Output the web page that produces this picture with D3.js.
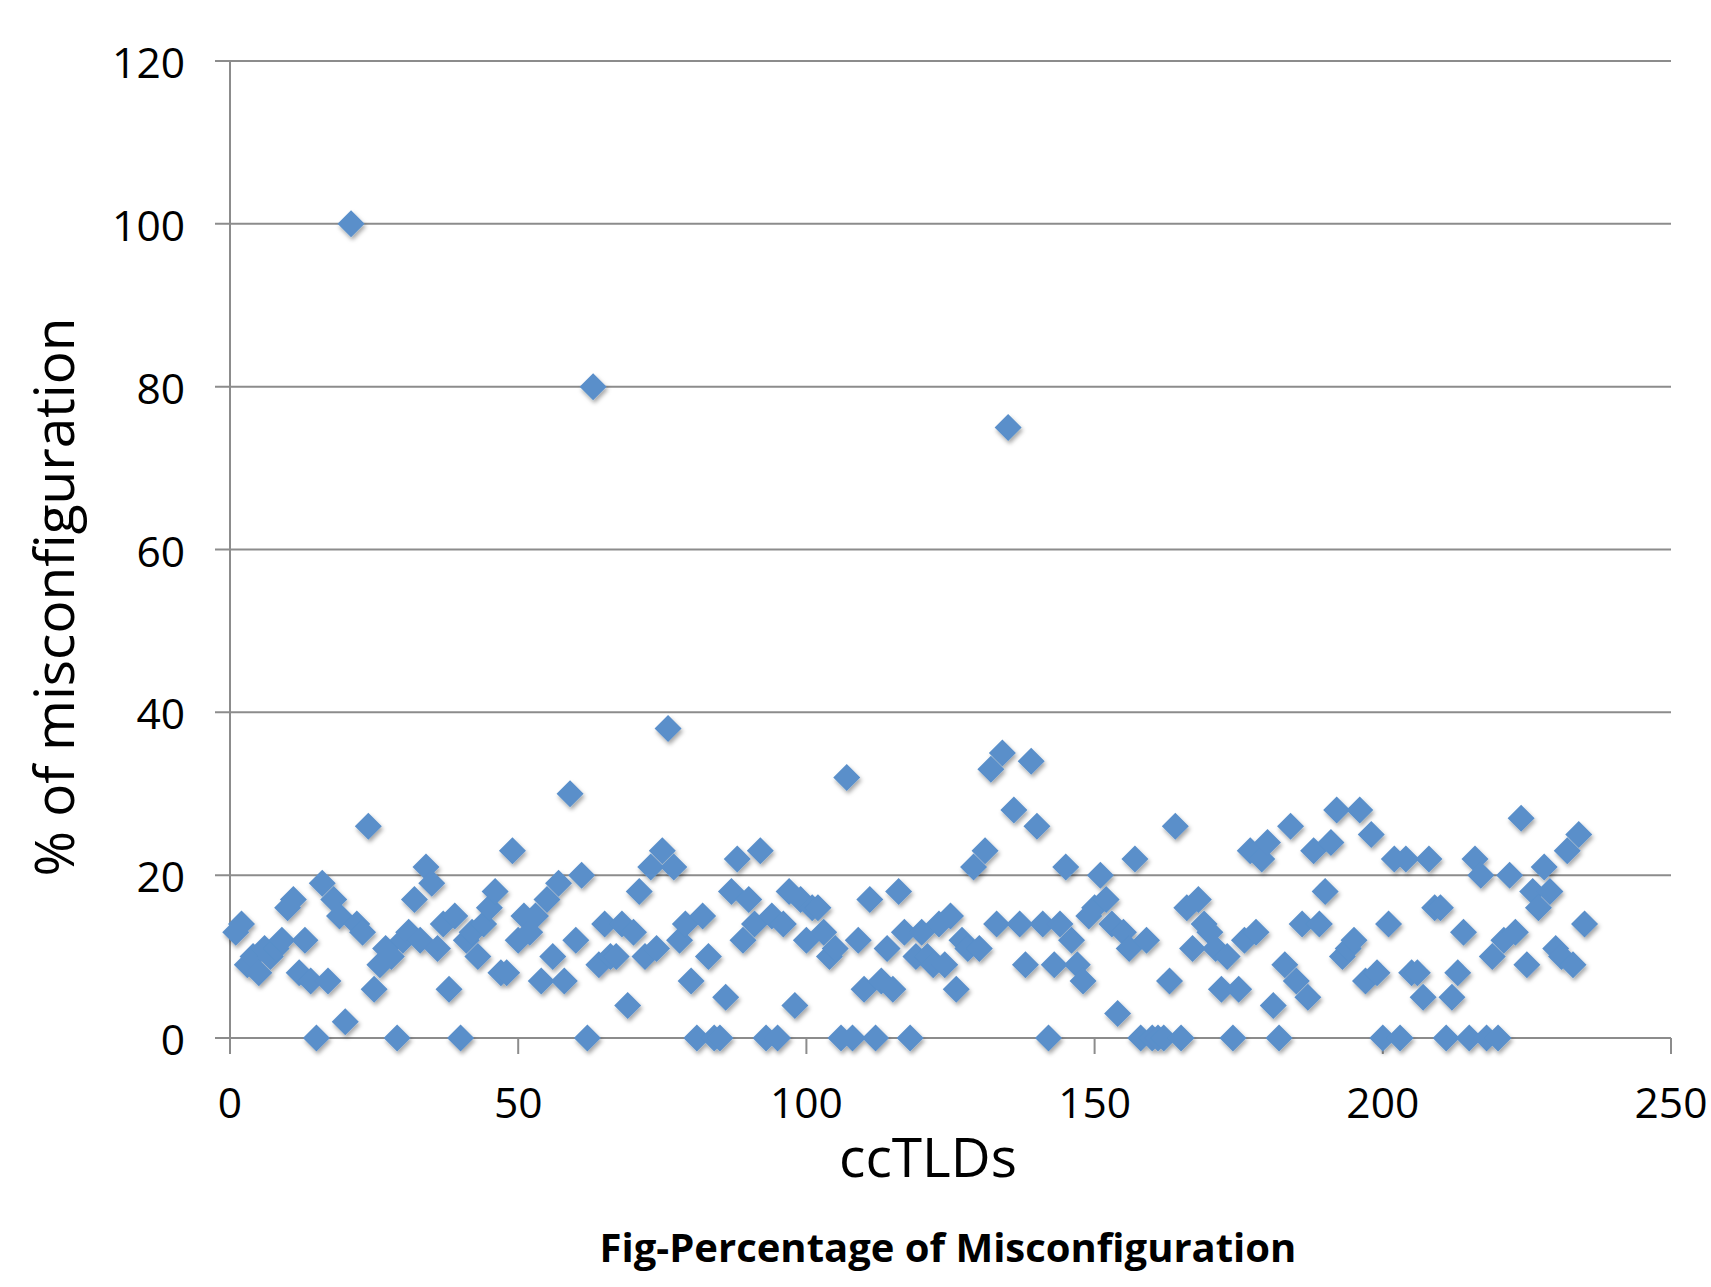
<!DOCTYPE html>
<head>
  <meta charset="utf-8">
  <script src="https://d3js.org/d3.v7.min.js"></script>
  <style>
    body { margin:0; background:#fff; }
    text { font-family: "Open Sans", sans-serif; fill:#000; }
  </style>
</head>
<body>
<script>
// ccTLD index -> % of misconfiguration
var misconf = [
  13,14,9,10,8,11,10,11,12,16,17,8,12,7,0,19,7,17,15,2,
  100,14,13,26,6,9,11,10,0,12,13,17,12,21,19,11,14,6,15,0,
  12,13,10,14,16,18,8,8,23,12,15,13,15,7,17,10,19,7,30,12,
  20,0,80,9,14,10,10,14,4,13,18,10,21,11,23,38,21,12,14,7,
  0,15,10,0,0,5,18,22,12,17,14,23,0,15,0,14,18,4,17,12,
  16,16,13,10,11,0,32,0,12,6,17,0,7,11,6,18,13,0,10,13,
  10,9,14,9,15,6,12,11,21,11,23,33,14,35,75,28,14,9,34,26,
  14,0,9,14,21,12,9,7,15,16,20,17,14,3,13,11,22,0,12,0,
  0,0,7,26,0,16,11,17,14,13,11,6,10,0,6,12,23,13,22,24,
  4,0,9,26,7,14,5,23,14,18,24,28,10,11,12,28,7,25,8,0,
  14,22,0,22,8,8,5,22,16,16,0,5,8,13,0,22,20,0,10,0,
  12,20,13,27,9,18,16,21,18,11,10,23,9,25,14
];
var xTicks = [0, 50, 100, 150, 200, 250];
var yTicks = [0, 20, 40, 60, 80, 100, 120];

var width = 1711, height = 1287;

var svg = d3.select("body").append("svg")
    .attr("width", width)
    .attr("height", height);

var defs = svg.append("defs");
var f = defs.append("filter").attr("id", "shadow")
    .attr("x", "-50%").attr("y", "-50%").attr("width", "200%").attr("height", "200%");
f.append("feDropShadow").attr("dx", 1.5).attr("dy", 3).attr("stdDeviation", 2)
    .attr("flood-color", "#000").attr("flood-opacity", 0.35);

var x = d3.scaleLinear().domain([0, 250]).range([230, 1671]);
var y = d3.scaleLinear().domain([0, 120]).range([1038, 61]);

// gridlines
svg.append("g")
  .selectAll("line")
  .data(yTicks)
  .enter().append("line")
    .attr("x1", x(0) - 15).attr("x2", x(250))
    .attr("y1", function(d) { return y(d); })
    .attr("y2", function(d) { return y(d); })
    .attr("stroke", "#8c8c8c").attr("stroke-width", 2);

// y axis line
svg.append("line")
    .attr("x1", x(0)).attr("x2", x(0))
    .attr("y1", y(120)).attr("y2", y(0) + 16)
    .attr("stroke", "#8c8c8c").attr("stroke-width", 2);

// x ticks
svg.append("g")
  .selectAll("line")
  .data(xTicks.slice(1))
  .enter().append("line")
    .attr("x1", function(d) { return x(d); })
    .attr("x2", function(d) { return x(d); })
    .attr("y1", y(0)).attr("y2", y(0) + 16)
    .attr("stroke", "#8c8c8c").attr("stroke-width", 2);

svg.append("g")
  .selectAll("text")
  .data(yTicks)
  .enter().append("text")
    .attr("x", 185)
    .attr("y", function(d) { return y(d) + 17; })
    .attr("text-anchor", "end")
    .style("font-size", "42.5px")
    .text(function(d) { return d; });

svg.append("g")
  .selectAll("text")
  .data(xTicks)
  .enter().append("text")
    .attr("x", function(d) { return x(d); })
    .attr("y", 1118)
    .attr("text-anchor", "middle")
    .style("font-size", "42.5px")
    .text(function(d) { return d; });

// points
var diamond = "M0,-13.5L13.5,0L0,13.5L-13.5,0Z";
svg.append("g")
    .attr("filter", "url(#shadow)")
  .selectAll("path")
  .data(misconf)
  .enter().append("path")
    .attr("d", diamond)
    .attr("transform", function(d, i) { return "translate(" + x(i + 1) + "," + y(d) + ")"; })
    .attr("fill", "#5a8fca");

svg.append("text")
    .attr("transform", "translate(74,597) rotate(-90)")
    .attr("text-anchor", "middle")
    .style("font-size", "55px")
    .text("% of misconfiguration");

svg.append("text")
    .attr("x", 928).attr("y", 1177)
    .attr("text-anchor", "middle")
    .style("font-size", "55px")
    .text("ccTLDs");

svg.append("text")
    .attr("x", 948).attr("y", 1262)
    .attr("text-anchor", "middle")
    .style("font-size", "40px")
    .style("font-weight", "bold")
    .text("Fig-Percentage of Misconfiguration");
</script>
</body>
